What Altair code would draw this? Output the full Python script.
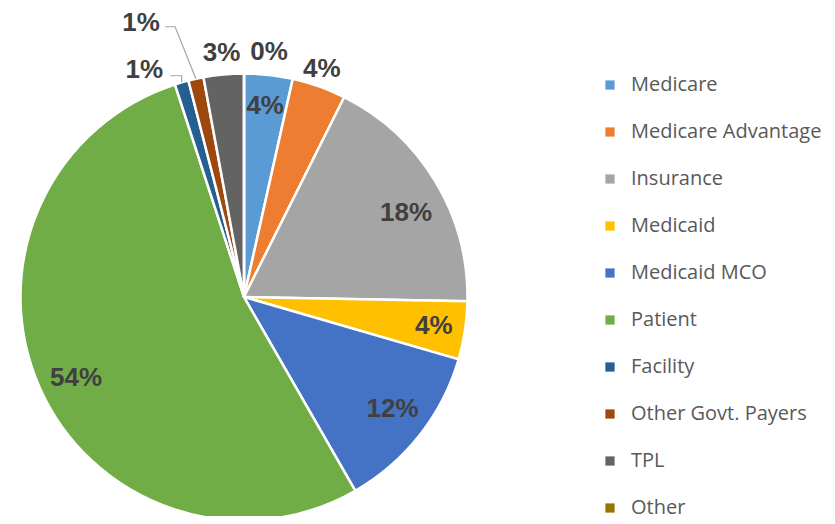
import altair as alt
import pandas as pd
import numpy as np

categories = ["Medicare", "Medicare Advantage", "Insurance", "Medicaid", "Medicaid MCO",
              "Patient", "Facility", "Other Govt. Payers", "TPL", "Other"]
shares = [3.5, 3.9, 17.9, 4.2, 12.2, 53.3, 1.0, 1.1, 2.9, 0.0]
labels = ["4%", "4%", "18%", "4%", "12%", "54%", "1%", "1%", "3%", "0%"]
colors = ["#5B9BD5", "#ED7D31", "#A5A5A5", "#FFC000", "#4472C4",
          "#70AD47", "#255E91", "#9E480E", "#636363", "#997300"]

# layout constants (chart coordinates, page margin excluded)
CX, CY, R = 236, 289, 223.5
# label placement: (radius, nudge x, nudge y)
placement = {
    "Medicare": (193, 0, 0), "Medicare Advantage": (242, -3.5, -1), "Insurance": (184, 4.5, 10),
    "Medicaid": (192, 0, -1), "Medicaid MCO": (187, 1.5, -5), "Patient": (186, 2, 5),
    "Facility": (246, -31, 8), "Other Govt. Payers": (246, -50, -35),
    "TPL": (246, 0, 0), "Other": (246, 25, 0),
}
# leader lines: (start offset x, start offset y from label centre, horizontal run or None)
leaders = {"Facility": (26, 7, None), "Other Govt. Payers": (24, 5, 10)}

df = pd.DataFrame({"category": categories, "share": shares, "label": labels,
                   "idx": list(range(len(categories)))})

total = sum(shares)
cum = np.cumsum([0] + shares[:-1])
mid = [(c + s / 2) / total * 2 * np.pi for c, s in zip(cum, shares)]
lx, ly = [], []
for cat, a in zip(categories, mid):
    r, nx, ny = placement[cat]
    lx.append(CX + r * np.sin(a) + nx)
    ly.append(CY - r * np.cos(a) + ny)
lab_df = pd.DataFrame({"label": labels, "x": lx, "y": ly})

rows = []
for cat, (ox, oy, run) in leaders.items():
    i = categories.index(cat)
    ex, ey = CX + R * np.sin(mid[i]), CY - R * np.cos(mid[i])
    sx, sy = lx[i] + ox, ly[i] + oy
    pts = [(sx, sy), (sx + run if run else ex, sy), (ex, ey)]
    for k, (px, py) in enumerate(pts):
        rows.append({"cat": cat, "k": k, "x": px, "y": py})
lead_df = pd.DataFrame(rows)

pie = alt.Chart(df).mark_arc(outerRadius=R, stroke="white", strokeWidth=2.5, x=CX, y=CY).encode(
    theta=alt.Theta("share:Q", stack=True),
    order=alt.Order("idx:Q"),
    color=alt.Color("category:N", sort=categories,
                    scale=alt.Scale(domain=categories, range=colors),
                    legend=alt.Legend(title=None, orient="none", legendX=592, legendY=67,
                                      symbolType="square", symbolSize=85, symbolStrokeWidth=0,
                                      labelFont="Open Sans", labelFontSize=20, labelColor="#595959",
                                      labelOffset=11, rowPadding=27, labelLimit=300)),
)

text = alt.Chart(lab_df).mark_text(font="Liberation Sans", fontWeight="bold", fontSize=26,
                                   color="#404040", align="center", baseline="middle", dy=1).encode(
    x=alt.X("x:Q", scale=None, axis=None),
    y=alt.Y("y:Q", scale=None, axis=None),
    text="label:N",
)

lines = alt.Chart(lead_df).mark_line(color="#A6A6A6", strokeWidth=1.2).encode(
    x=alt.X("x:Q", scale=None, axis=None),
    y=alt.Y("y:Q", scale=None, axis=None),
    detail="cat:N",
    order="k:Q",
)

chart = alt.layer(pie, lines, text).properties(
    width=819, height=508, autosize=alt.AutoSizeParams(type="none"), padding=0
).configure_view(stroke=None)

chart.save("out.html", embed_options={"renderer": "svg", "actions": False})
